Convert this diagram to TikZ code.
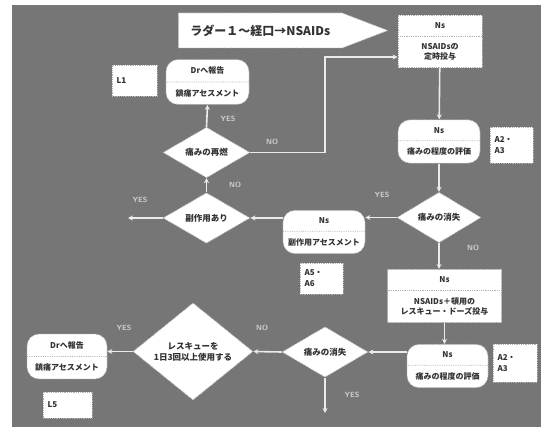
\documentclass[tikz,border=0pt]{standalone}
\usepackage{fontspec}
\usepackage{tikz}
\usetikzlibrary{arrows.meta, shapes.geometric, shapes.multipart, shapes.symbols}
\newfontfamily\jp{Noto Sans CJK JP}
\definecolor{bgGray}{RGB}{118,118,118}
\definecolor{lineWhite}{RGB}{235,235,235}
\definecolor{inkGray}{RGB}{50,50,50}
\definecolor{labelGray}{RGB}{210,210,210}

\tikzset{
  paper/.style={fill=white, draw=gray!60, densely dotted, thick, text=inkGray},
  nsbox/.style={paper, rectangle split, rectangle split parts=2, align=center,
    font=\jp\bfseries\fontsize{8}{10}\selectfont, inner xsep=2pt, inner ysep=7pt},
  nsround/.style={nsbox, rounded corners=12pt},
  judge/.style={paper, diamond, align=center, inner sep=0pt,
    font=\jp\bfseries\fontsize{8.5}{11}\selectfont},
  memo/.style={paper, rectangle, align=left, inner xsep=4pt,
    font=\jp\bfseries\fontsize{8}{11}\selectfont},
  banner/.style={paper, signal, signal to=east, signal pointer angle=42,
    font=\jp\bfseries\fontsize{12}{14}\selectfont},
  flow/.style={draw=lineWhite, line width=1.6pt, -{Stealth[length=5pt,width=5pt]}},
  yesno/.style={text=labelGray, font=\sffamily\bfseries\fontsize{7.5}{9}\selectfont}
}

\begin{document}
\begin{tikzpicture}[x=1pt, y=-1pt]

    \useasboundingbox (0,0) rectangle (541,428);
    % grey ground
    \fill[bgGray] (12,5) rectangle (541,427);

    % Title arrow
    \node[banner, anchor=west, minimum width=196pt, minimum height=35pt, inner xsep=12pt] (title) at (178,30.5) {ラダー１～経口→NSAIDs};

    % Right column (Ns steps)
    \node[nsbox, minimum width=84pt] (n1) at (440,41.5) {Ns \nodepart{two} NSAIDsの\\定時投与};
    \node[nsround, minimum width=82pt] (n2) at (439,141.5) {Ns \nodepart{two} 痛みの程度の評価};
    \node[memo, minimum width=43pt, minimum height=36pt, text width=34pt] (a23) at (511.5,145) {A2・\\A3};
    \node[judge, minimum width=84pt, minimum height=49pt] (d1) at (439,217.5) {痛みの消失};
    \node[nsbox, minimum width=114pt] (n3) at (444.5,296) {Ns \nodepart{two} NSAIDs＋頓用の\\レスキュー・ドーズ投与};
    \node[nsround, minimum width=81pt] (n4) at (447.5,366) {Ns \nodepart{two} 痛みの程度の評価};
    \node[memo, minimum width=44pt, minimum height=38pt, text width=35pt] (a23b) at (515,363) {A2・\\A3};

    % Middle (side effects)
    \node[nsround, minimum width=82pt] (n6) at (324,232) {Ns \nodepart{two} 副作用アセスメント};
    \node[memo, minimum width=43pt, minimum height=31pt, text width=34pt] (a56) at (321.5,278.5) {A5・\\A6};
    \node[judge, minimum width=86pt, minimum height=50pt] (d2) at (325,352) {痛みの消失};

    % Left column
    \node[judge, minimum width=87pt, minimum height=50pt] (d4) at (206.5,218) {副作用あり};
    \node[judge, minimum width=87pt, minimum height=45pt] (d5) at (206.5,152.5) {痛みの再燃};
    \node[nsround, minimum width=83pt] (n7) at (207.5,82) {Drへ報告 \nodepart{two} 鎮痛アセスメント};
    \node[memo, minimum width=45pt, minimum height=31pt, text width=36pt] (l1) at (134.5,80.5) {L1};
    \node[judge, minimum width=120pt, minimum height=77pt] (d3) at (193,351.5) {レスキューを\\1日3回以上使用する};
    \node[nsround, minimum width=80pt] (n5) at (67,356.5) {Drへ報告 \nodepart{two} 鎮痛アセスメント};
    \node[memo, minimum width=49pt, minimum height=26pt, text width=40pt] (l5) at (67.5,405) {L5};

    % free ends
    \coordinate (bend) at (325,57);
    \coordinate (outA) at (128,218);
    \coordinate (outB) at (325,413);

    % Connectors
    \draw[flow] (n1) -- (n2);
    \draw[flow] (n2) -- (d1);
    \draw[flow] (d1.west) -- (d1.west -| n6.east);
    \draw[flow] (d1.south) -- (d1.south |- n3.north);
    \draw[flow] (n3.south) -- (n3.south |- n4.north);
    \draw[flow] (d2.east -| n4.west) -- (d2.east);
    \draw[flow] (d2.west) -- (d3.east);
    \draw[flow] (d2.south) -- (outB);
    \draw[flow] (d3.west) -- (d3.west -| n5.east);
    \draw[flow] (d4.east -| n6.west) -- (d4.east);
    \draw[flow] (d4.west) -- (outA);
    \draw[flow] (d4.north) -- (d5.south);
    \draw[flow] (d5.north) -- (n7.south);
    \draw[flow] (d5.east) -| (bend) -- (bend -| n1.west);

    % YES / NO
    \node[yesno] (y1) at (228,119) {YES};
    \node[yesno] (n1l) at (272,142) {NO};
    \node[yesno] (n2l) at (235,185) {NO};
    \node[yesno] (y2) at (140,200) {YES};
    \node[yesno] (y3) at (382,195) {YES};
    \node[yesno] (n3l) at (473,248) {NO};
    \node[yesno] (n4l) at (262,328) {NO};
    \node[yesno] (y4) at (124,328) {YES};
    \node[yesno] (y5) at (352,395) {YES};

\end{tikzpicture}
\end{document}
